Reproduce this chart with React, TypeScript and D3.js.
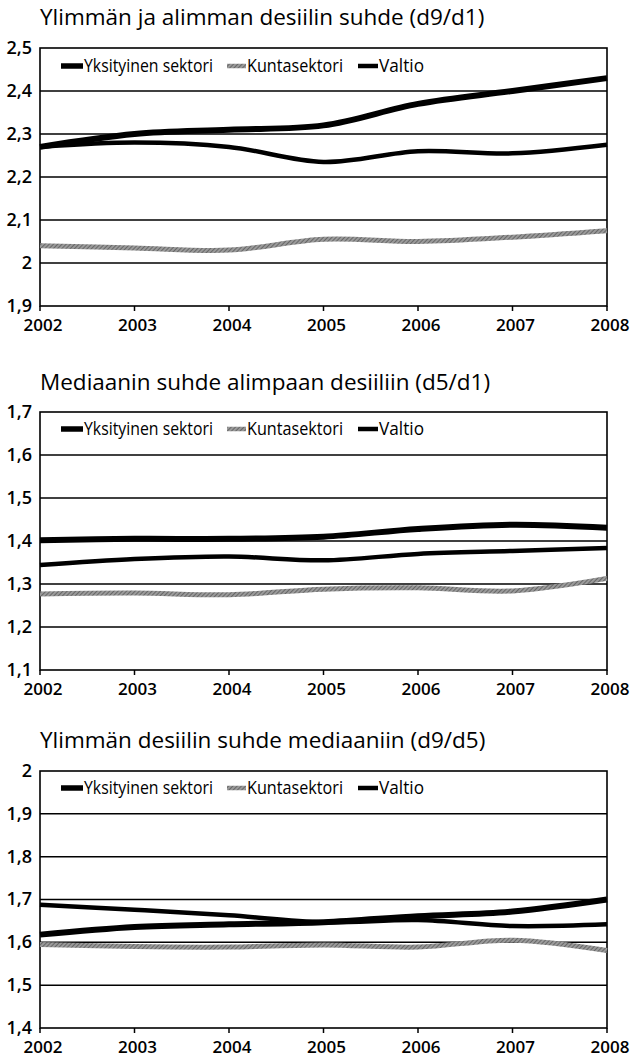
import React from "react";
import * as d3 from "d3";

const years = [2002, 2003, 2004, 2005, 2006, 2007, 2008];
const seriesNames = ["Yksityinen sektori", "Kuntasektori", "Valtio"];

// Panel 1: d9/d1
const title1 = "Ylimmän ja alimman desiilin suhde (d9/d1)";
const yks1 = [2.27, 2.3, 2.31, 2.32, 2.37, 2.4, 2.43];
const kunta1 = [2.04, 2.035, 2.03, 2.055, 2.05, 2.06, 2.075];
const valtio1 = [2.27, 2.28, 2.27, 2.235, 2.26, 2.255, 2.275];
const ticks1 = [1.9, 2.0, 2.1, 2.2, 2.3, 2.4, 2.5];

// Panel 2: d5/d1
const title2 = "Mediaanin suhde alimpaan desiiliin (d5/d1)";
const yks2 = [1.402, 1.405, 1.405, 1.41, 1.428, 1.438, 1.431];
const kunta2 = [1.277, 1.279, 1.275, 1.288, 1.291, 1.284, 1.313];
const valtio2 = [1.344, 1.358, 1.364, 1.355, 1.37, 1.377, 1.384];
const ticks2 = [1.1, 1.2, 1.3, 1.4, 1.5, 1.6, 1.7];

// Panel 3: d9/d5
const title3 = "Ylimmän desiilin suhde mediaaniin (d9/d5)";
const yks3 = [1.618, 1.636, 1.642, 1.647, 1.661, 1.672, 1.7];
const kunta3 = [1.595, 1.59, 1.589, 1.594, 1.589, 1.605, 1.581];
const valtio3 = [1.688, 1.676, 1.663, 1.647, 1.652, 1.638, 1.642];
const ticks3 = [1.4, 1.5, 1.6, 1.7, 1.8, 1.9, 2.0];

const W = 636;
const H = 1059;
const LEFT = 40;
const RIGHT = 607;

const fmt = (v: number) => {
  const s = (Math.round(v * 10) / 10).toString();
  return s.replace(".", ",");
};

const panels = [
  { title: title1, series: [yks1, kunta1, valtio1], ticks: ticks1, top: 48, bottom: 306, titleY: 25, legendY: 66 },
  { title: title2, series: [yks2, kunta2, valtio2], ticks: ticks2, top: 412, bottom: 670, titleY: 390, legendY: 429 },
  { title: title3, series: [yks3, kunta3, valtio3], ticks: ticks3, top: 771, bottom: 1028, titleY: 748, legendY: 788 },
];

const FONT = "'Open Sans', 'Noto Sans', sans-serif";

const styles = [
  { stroke: "#000", width: 6 },
  { stroke: "url(#hatch)", width: 5 },
  { stroke: "#000", width: 4.5 },
];

const legendX = [61, 227, 358];
const legendSwatchW = [22, 19, 20];
const legendTextW = [129, 96, 45];

function Panel({ p }: { p: (typeof panels)[number] }) {
  const x = d3.scalePoint<number>().domain(years).range([LEFT, RIGHT]);
  const y = d3
    .scaleLinear()
    .domain([p.ticks[0], p.ticks[p.ticks.length - 1]])
    .range([p.bottom, p.top]);
  const line = d3
    .line<number>()
    .x((_, i) => x(years[i]) as number)
    .y((d) => y(d))
    .curve(d3.curveCatmullRom.alpha(0.5));
  return (
    <g>
      <text x={LEFT} y={p.titleY} fontFamily={FONT} fontSize={22.5} fill="#000">
        {p.title}
      </text>
      {p.ticks.slice(1, -1).map((t) => (
        <line key={t} x1={LEFT} x2={RIGHT} y1={y(t)} y2={y(t)} stroke="#000" strokeWidth={1.5} />
      ))}
      <rect x={LEFT} y={p.top} width={RIGHT - LEFT} height={p.bottom - p.top} fill="none" stroke="#000" strokeWidth={1.6} />
      {p.ticks.map((t) => (
        <text key={t} x={32} y={y(t)} dy="0.33em" textAnchor="end" fontFamily={FONT} fontSize={18} fontWeight={600} fill="#000">
          {fmt(t)}
        </text>
      ))}
      {years.map((yr) => (
        <g key={yr}>
          <line x1={x(yr)} x2={x(yr)} y1={p.bottom} y2={p.bottom + 5} stroke="#000" strokeWidth={1.5} />
          <text x={x(yr)! + 3} y={p.bottom + 25} textAnchor="middle" fontFamily={FONT} fontSize={17} fontWeight={600} fill="#000">
            {yr}
          </text>
        </g>
      ))}
      {[1, 2, 0].map((si) => (
        <path key={si} d={line(p.series[si]) || ""} fill="none" stroke={styles[si].stroke} strokeWidth={styles[si].width} strokeLinejoin="round" />
      ))}
      {seriesNames.map((n, i) => (
        <g key={n}>
          <line
            x1={legendX[i]}
            x2={legendX[i] + legendSwatchW[i]}
            y1={p.legendY}
            y2={p.legendY}
            stroke={styles[i].stroke}
            strokeWidth={i === 0 ? 5.5 : 4.5}
          />
          <text
            x={legendX[i] + legendSwatchW[i] + 1}
            y={p.legendY}
            dy="0.36em"
            fontFamily={FONT}
            fontSize={18}
            fontWeight={500}
            textLength={legendTextW[i]}
            lengthAdjust="spacingAndGlyphs"
            fill="#000"
          >
            {n}
          </text>
        </g>
      ))}
    </g>
  );
}

export default function App() {
  return (
    <svg width={W} height={H} style={{ display: "block", position: "absolute", left: 0, top: 0, background: "#fff" }}>
      <defs>
        <pattern id="hatch" patternUnits="userSpaceOnUse" width="3" height="3" patternTransform="rotate(45)">
          <rect width="3" height="3" fill="#9a9a9a" />
          <line x1="0" y1="0" x2="0" y2="3" stroke="#444" strokeWidth="1.2" />
        </pattern>
      </defs>
      <rect width={W} height={H} fill="#fff" />
      {panels.map((p, i) => (
        <Panel key={i} p={p} />
      ))}
    </svg>
  );
}
